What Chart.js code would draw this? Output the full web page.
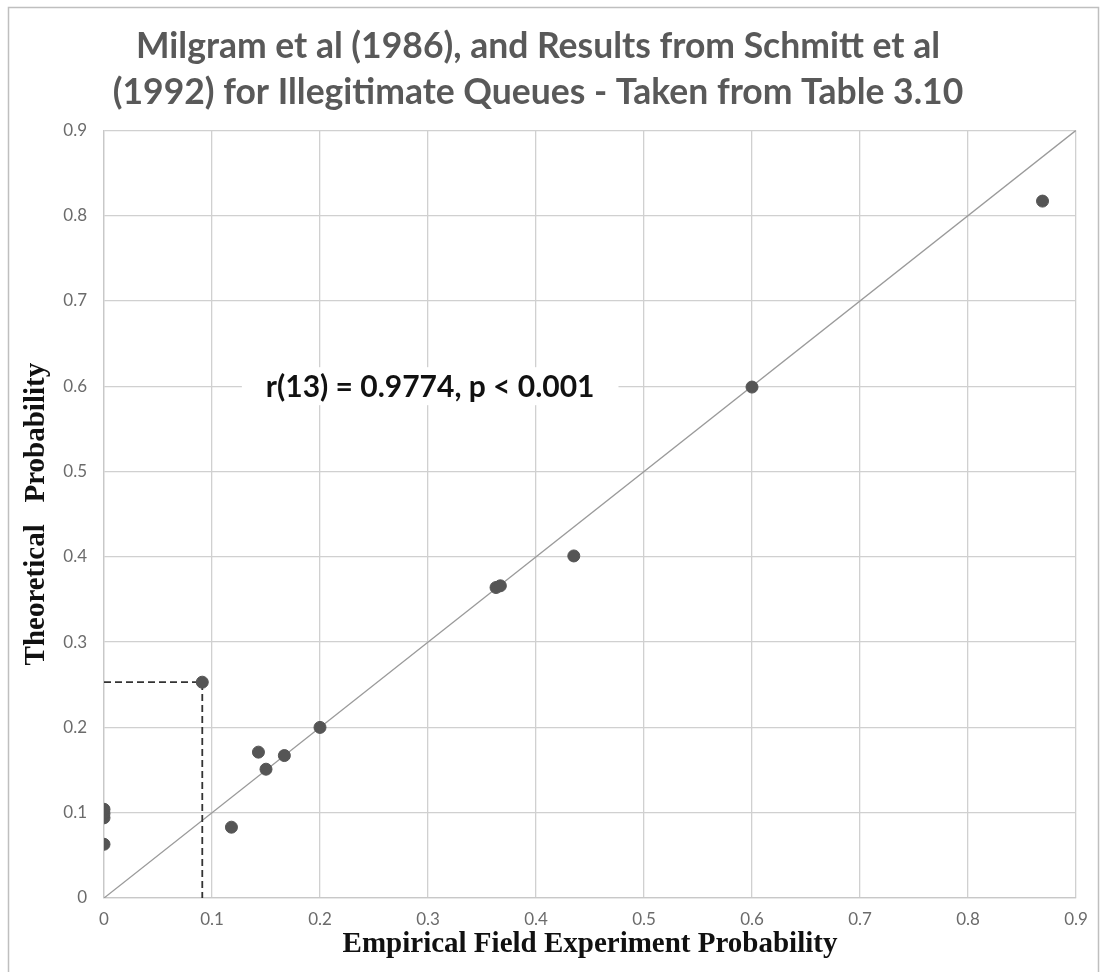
<!DOCTYPE html>
<html>
<head>
<meta charset="utf-8">
<script src="https://cdn.jsdelivr.net/npm/chart.js@4.4.0/dist/chart.umd.min.js"></script>
<style>
  html, body { margin: 0; padding: 0; background: #ffffff; }
  #wrap { width: 1101px; height: 972px; position: relative; }
</style>
</head>
<body>
<div id="wrap"><canvas id="c" width="1101" height="972"></canvas></div>
<script>
// ---- data ----
const empirical   = [0, 0, 0, 0, 0.091, 0.118, 0.143, 0.150, 0.167, 0.200, 0.363, 0.367, 0.435, 0.600, 0.869];
const theoretical = [0.063, 0.094, 0.099, 0.104, 0.253, 0.083, 0.171, 0.151, 0.167, 0.200, 0.364, 0.366, 0.401, 0.599, 0.817];
const diagonalX = [0, 0.9];
const diagonalY = [0, 0.9];
const markerX = [0, 0.091, 0.091];
const markerY = [0.253, 0.253, 0];
const tickValues = [0, 0.1, 0.2, 0.3, 0.4, 0.5, 0.6, 0.7, 0.8, 0.9];
const tickLabels = ['0', '0.1', '0.2', '0.3', '0.4', '0.5', '0.6', '0.7', '0.8', '0.9'];
const titleLines = ['Milgram et al (1986), and Results from Schmitt et al', '(1992) for Illegitimate Queues - Taken from Table 3.10'];
const xTitle = 'Empirical Field Experiment Probability';
const yTitle = 'Theoretical   Probability';
const annotationText = 'r(13) = 0.9774, p < 0.001';
const annotationAt = { x: 0.302, y: 0.6 };

const toPts = (xs, ys) => xs.map((x, i) => ({ x: x, y: ys[i] }));

const frame = {
  id: 'frame',
  beforeDraw(chart) {
    const ctx = chart.ctx;
    ctx.save();
    ctx.fillStyle = '#ffffff';
    ctx.fillRect(0, 0, chart.width, chart.height);
    ctx.strokeStyle = '#bfbfbf';
    ctx.lineWidth = 1.5;
    ctx.strokeRect(8.5, 7.5, 1090, 990);
    ctx.restore();
  }
};

const annot = {
  id: 'annot',
  beforeDatasetsDraw(chart) {
    const ctx = chart.ctx;
    const xs = chart.scales.x, ys = chart.scales.y;
    const cx = xs.getPixelForValue(annotationAt.x);
    const cy = ys.getPixelForValue(annotationAt.y);
    ctx.save();
    ctx.font = 'bold 30px Lato, "Open Sans", sans-serif';
    const w = ctx.measureText(annotationText).width;
    ctx.fillStyle = '#ffffff';
    ctx.fillRect(cx - w / 2 - 24, cy - 19, w + 48, 38);
    ctx.fillStyle = '#111111';
    ctx.textAlign = 'center';
    ctx.textBaseline = 'middle';
    ctx.fillText(annotationText, cx, cy + 1);
    ctx.restore();
  }
};

const axisCommon = (title, isX) => ({
  type: 'linear',
  min: 0,
  max: 0.9,
  afterBuildTicks(scale) { scale.ticks = tickValues.map(v => ({ value: v })); },
  afterFit(scale) {
    if (isX) scale.height = 74; else scale.width = 104;
  },
  grid: { color: '#d0d0d0', lineWidth: 1.3, drawTicks: false },
  border: { color: '#c8c8c8', width: 1.3 },
  ticks: {
    color: '#6b6b6b',
    font: { family: 'Lato, "Open Sans", sans-serif', size: 17 },
    padding: isX ? 11 : 17,
    callback: (v) => { const i = tickValues.findIndex(t => Math.abs(t - v) < 1e-9); return i >= 0 ? tickLabels[i] : ''; }
  },
  title: {
    display: true,
    text: title,
    color: '#111111',
    font: { family: '"Liberation Serif", "Times New Roman", serif', size: 29, weight: 'bold' },
    padding: isX ? { top: 0, bottom: 10 } : { top: 19, bottom: 0 }
  }
});

new Chart(document.getElementById('c'), {
  type: 'scatter',
  data: {
    datasets: [
      {
        label: 'diagonal',
        data: toPts(diagonalX, diagonalY),
        showLine: true,
        borderColor: '#9a9a9a',
        borderWidth: 1.3,
        pointRadius: 0,
        order: 3
      },
      {
        label: 'marker',
        data: toPts(markerX, markerY),
        showLine: true,
        borderColor: '#333333',
        borderWidth: 1.8,
        borderDash: [7, 4],
        pointRadius: 0,
        order: 2
      },
      {
        label: 'Observations',
        data: toPts(empirical, theoretical),
        backgroundColor: '#555555',
        borderColor: '#555555',
        pointRadius: 6,
        pointHoverRadius: 6,
        order: 1
      }
    ]
  },
  options: {
    responsive: false,
    animation: false,
    layout: { padding: { left: 0, right: 25, top: 0, bottom: 0 } },
    plugins: {
      legend: { display: false },
      tooltip: { enabled: false },
      title: {
        display: true,
        text: titleLines,
        color: '#595959',
        font: { family: 'Lato, "Open Sans", sans-serif', size: 35.5, weight: 'bold', lineHeight: 1.3 },
        padding: { top: 23, bottom: 15 }
      }
    },
    scales: {
      x: axisCommon(xTitle, true),
      y: axisCommon(yTitle, false)
    }
  },
  plugins: [frame, annot]
});
</script>
</body>
</html>
